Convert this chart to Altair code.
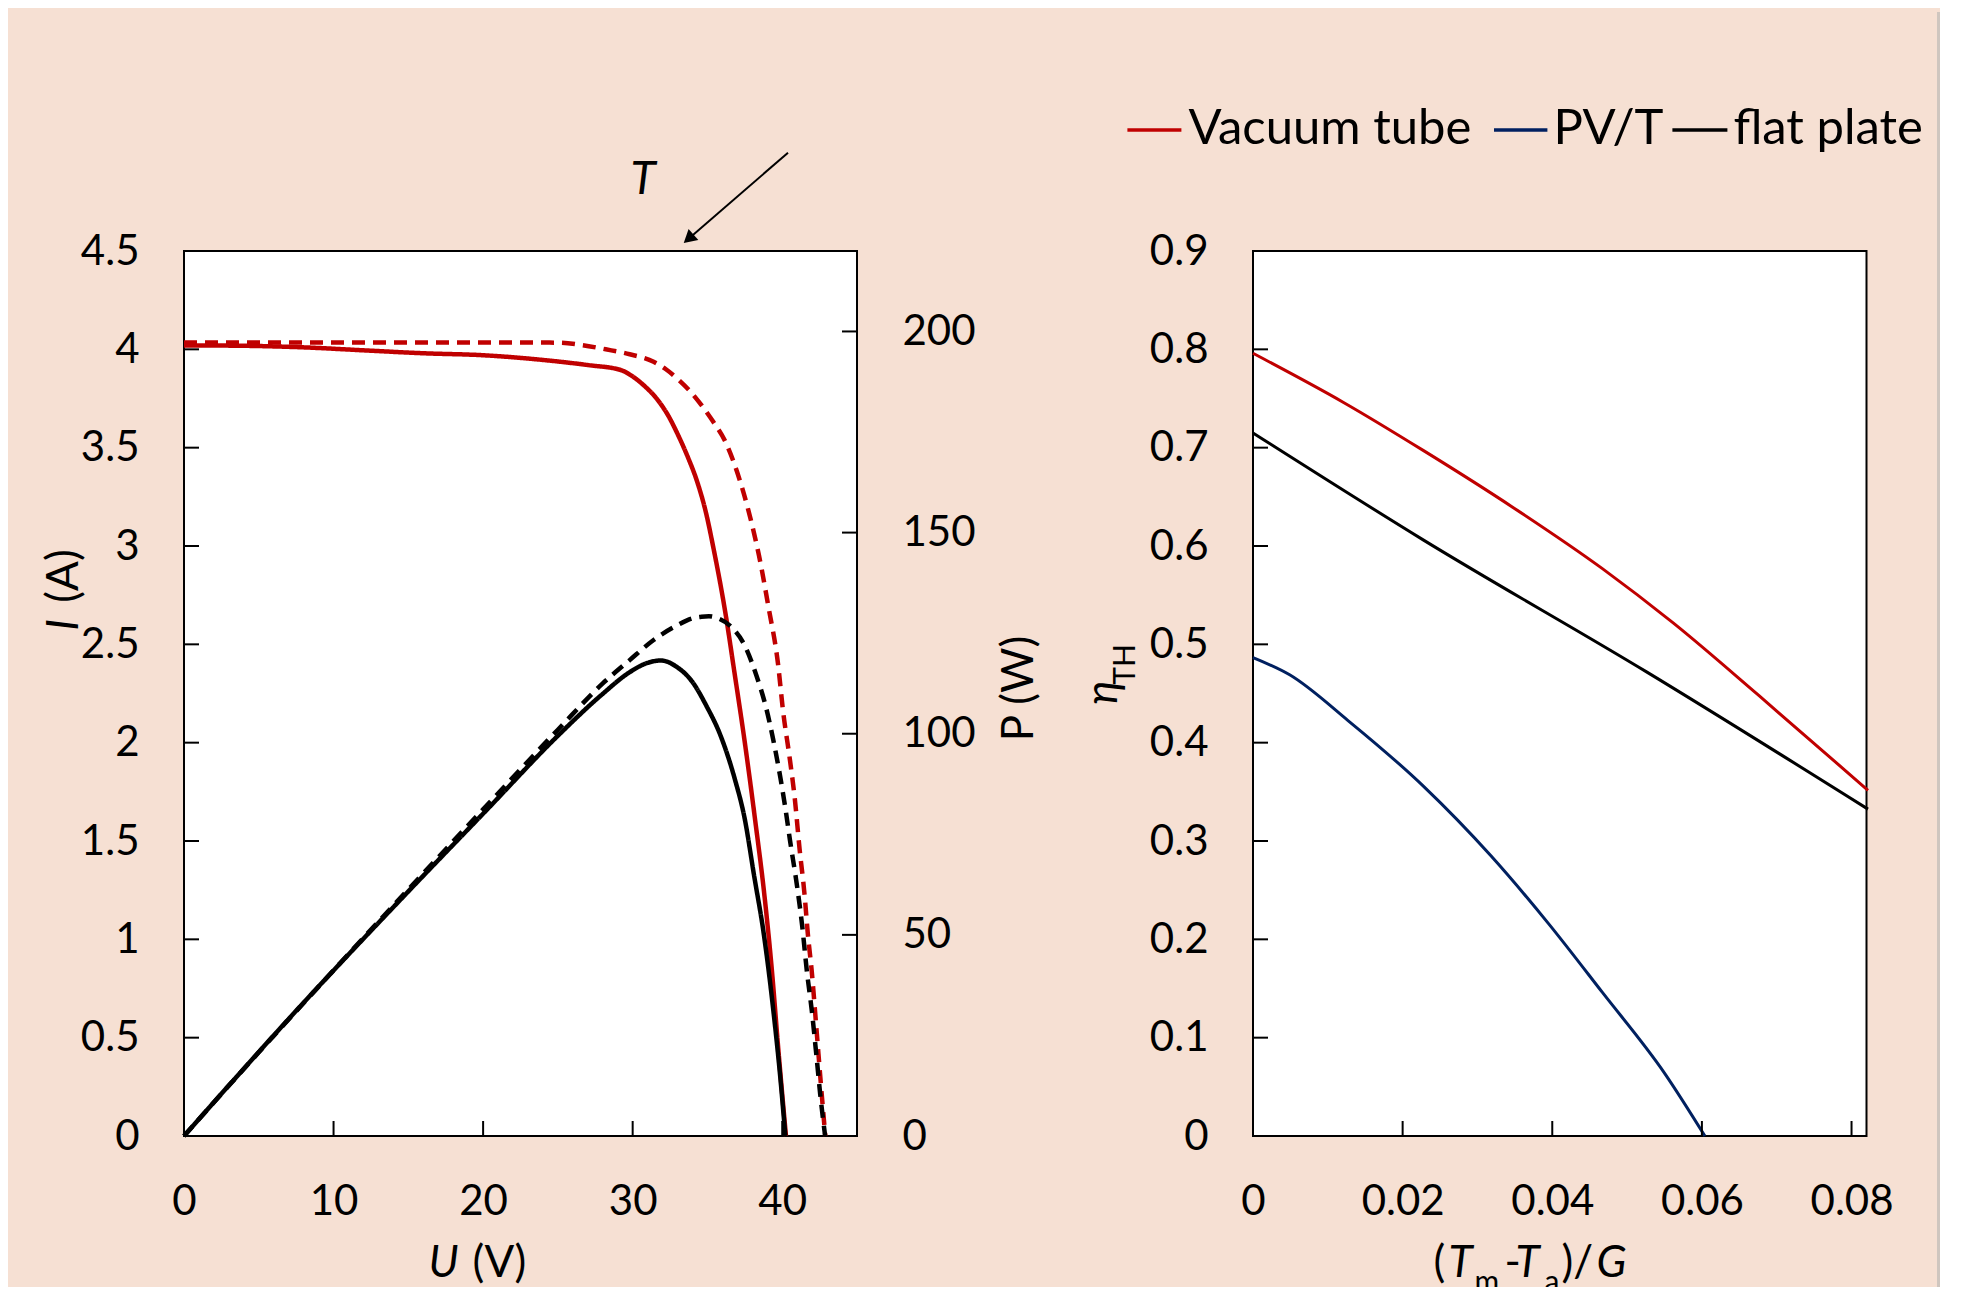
import altair as alt
import pandas as pd

# ---------------- data ----------------
# Left panel: I-U curves (red) and P-U curves (black); solid and dashed
U_I_solid = [0, 4, 8, 12, 16, 20, 24, 27, 29.2, 29.8, 30.7, 31.7, 32.4, 33.0, 33.7, 34.3,
             34.9, 35.4, 36.2, 36.8, 37.5, 38.2, 38.8, 39.3, 39.74, 40.25]
I_solid = [4.02, 4.018, 4.01, 3.995, 3.98, 3.97, 3.946, 3.92, 3.895, 3.872, 3.82, 3.74, 3.66,
           3.57, 3.45, 3.33, 3.17, 2.99, 2.66, 2.36, 2.0, 1.6, 1.23, 0.85, 0.44, 0.0]
U_I_dashed = [0, 5, 10, 15, 20, 25, 26.6, 28.2, 29.8, 31.4, 32.2, 33.0, 33.8, 34.6, 35.4, 36.2,
              37.2, 38.1, 38.45, 39.08, 39.72, 40.05, 40.52, 40.84, 41.16, 41.49, 41.71, 41.97,
              42.29, 42.6, 42.88]
I_dashed = [4.035, 4.035, 4.035, 4.035, 4.035, 4.034, 4.022, 4.0, 3.975, 3.937, 3.90, 3.85, 3.79,
            3.716, 3.63, 3.53, 3.325, 3.07, 2.95, 2.69, 2.40, 2.165, 1.91, 1.716, 1.46, 1.23, 1.03,
            0.84, 0.544, 0.25, 0.0]
U_P_solid = [0, 7.37, 15, 20.2, 25, 27.9, 29.8, 30.9, 31.9, 32.99, 33.97, 34.92, 35.88, 36.84,
             37.48, 38.12, 38.76, 39.40, 39.88, 40.21]
P_solid = [0, 30.6, 60.8, 80.9, 99.5, 109.6, 115.3, 117.5, 118.2, 116.5, 113.0, 107.0, 99.5,
           88.6, 79.1, 64.7, 50.4, 31.4, 14.2, 0]
U_P_dashed = [0, 5, 10, 15, 20, 25, 28, 29.8, 31.4, 33.0, 34.0, 34.6, 35.1, 35.7, 36.52, 37.48,
              38.28, 38.92, 39.40, 39.88, 40.21, 40.52, 41.0, 41.33, 41.65, 41.97, 42.29, 42.54,
              42.87]
P_dashed = [0, 20.8, 41.2, 61.3, 81.2, 101.0, 112.5, 118.3, 123.3, 127.0, 128.7, 129.1, 129.2,
            128.7, 126.8, 122.0, 114.4, 106.5, 98.5, 89.0, 81.5, 73.5, 61.9, 52.4, 40.9, 31.4,
            19.9, 10.4, 0]

U_ticks = [0, 10, 20, 30, 40]
I_ticks = [0, 0.5, 1, 1.5, 2, 2.5, 3, 3.5, 4, 4.5]
P_ticks = [0, 50, 100, 150, 200]

# Right panel: thermal efficiency vs (Tm-Ta)/G
collectors = ["Vacuum tube", "PV/T", "flat plate"]
X_vt = [0, 0.0121, 0.0228, 0.0348, 0.0467, 0.0562, 0.0676, 0.0822]
eta_vt = [0.796, 0.746, 0.697, 0.639, 0.577, 0.5215, 0.448, 0.3516]
X_pvt = [0, 0.0049, 0.0127, 0.0228, 0.0318, 0.0395, 0.0467, 0.055, 0.0604]
eta_pvt = [0.4865, 0.469, 0.4225, 0.3556, 0.285, 0.216, 0.146, 0.064, 0.0]
X_fp = [0, 0.0228, 0.0526, 0.0822]
eta_fp = [0.715, 0.606, 0.472, 0.3324]

X_ticks = [0, 0.02, 0.04, 0.06, 0.08]
eta_ticks = [0, 0.1, 0.2, 0.3, 0.4, 0.5, 0.6, 0.7, 0.8, 0.9]

# ---------------- styles ----------------
FONT = "Lato"
BG = "#F6E0D3"
RED = "#C00000"
BLUE = "#002060"
BLACK = "#000000"
LW, LH = 673, 885
RW, RH = 613.5, 885
TICK = 15
LBL = "'' + datum.value"

ONE = pd.DataFrame({"k": [0]})


def txt(s, x, y, size=44, italic=False, angle=0, align="left", baseline="alphabetic"):
    return alt.Chart(ONE).mark_text(
        text=s, font=FONT, fontSize=size, fontStyle="italic" if italic else "normal",
        angle=angle, align=align, baseline=baseline, color="black"
    ).encode(x=alt.value(x), y=alt.value(y))


def seg(x1, y1, x2, y2, color="black", w=2):
    return alt.Chart(ONE).mark_rule(color=color, strokeWidth=w).encode(
        x=alt.value(x1), y=alt.value(y1), x2=alt.value(x2), y2=alt.value(y2))


# ---------------- left panel ----------------
xs_left = alt.Scale(domain=[0, 45], nice=False, zero=False)
ys_I = alt.Scale(domain=[0, 4.5], nice=False)
ys_P = alt.Scale(domain=[0, 220], nice=False)
dash_scale = alt.Scale(domain=["solid", "dashed"], range=[[1, 0], [13, 8]])
ax_U = alt.Axis(values=U_ticks, labelExpr=LBL, title=None)
ax_I = alt.Axis(values=I_ticks, labelExpr=LBL, title=None)
ax_P = alt.Axis(orient="right", values=P_ticks, labelExpr=LBL, title=None)

iv = pd.DataFrame({
    "U": U_I_solid + U_I_dashed,
    "I": I_solid + I_dashed,
    "curve": ["solid"] * len(U_I_solid) + ["dashed"] * len(U_I_dashed),
})
pv = pd.DataFrame({
    "U": U_P_solid + U_P_dashed,
    "P": P_solid + P_dashed,
    "curve": ["solid"] * len(U_P_solid) + ["dashed"] * len(U_P_dashed),
})

i_lines = alt.Chart(iv).mark_line(color=RED, strokeWidth=4.5, interpolate="monotone").encode(
    x=alt.X("U:Q", scale=xs_left, axis=ax_U),
    y=alt.Y("I:Q", scale=ys_I, axis=ax_I),
    strokeDash=alt.StrokeDash("curve:N", scale=dash_scale, legend=None),
    detail="curve:N",
)
i_tick_marks = alt.Chart(pd.DataFrame({"I": I_ticks})).mark_rule(color="black", strokeWidth=2).encode(
    y=alt.Y("I:Q", scale=ys_I, axis=ax_I), x=alt.value(0), x2=alt.value(TICK))

p_lines = alt.Chart(pv).mark_line(color=BLACK, strokeWidth=4.5, interpolate="monotone").encode(
    x=alt.X("U:Q", scale=xs_left, axis=ax_U),
    y=alt.Y("P:Q", scale=ys_P, axis=ax_P),
    strokeDash=alt.StrokeDash("curve:N", scale=dash_scale, legend=None),
    detail="curve:N",
)
p_tick_marks = alt.Chart(pd.DataFrame({"P": P_ticks})).mark_rule(color="black", strokeWidth=2).encode(
    y=alt.Y("P:Q", scale=ys_P, axis=ax_P), x=alt.value(LW - TICK), x2=alt.value(LW))

u_tick_marks = alt.Chart(pd.DataFrame({"U": U_ticks})).mark_rule(color="black", strokeWidth=2).encode(
    x=alt.X("U:Q", scale=xs_left, axis=ax_U), y=alt.value(LH - TICK), y2=alt.value(LH))

left_deco = [
    # axis titles
    txt("I", -106.5, 374, italic=True, angle=270, align="center"),
    txt("(A)", -106.5, 325, angle=270, align="center"),
    txt("P (W)", 848.5, 437.5, angle=270, align="center"),
    txt("U", 244.5, 1026, italic=True),
    txt("(V)", 288.5, 1026),
    # T annotation with arrow
    txt("T", 459, -57, size=46, italic=True, align="center"),
    seg(604, -98.3, 504.6, -12.3, w=2),
    alt.Chart(ONE).mark_point(shape="triangle-up", filled=True, size=220, angle=229,
                              color="black", opacity=1).encode(
        x=alt.value(504.6), y=alt.value(-12.3)),
    # extent marker (top-left corner of the canvas)
    seg(-174.5, -241, -174.5, -241, color=BG, w=1),
]

left = alt.layer(
    alt.layer(i_lines, i_tick_marks),
    alt.layer(p_lines, p_tick_marks),
    u_tick_marks,
    *left_deco,
).resolve_scale(y="independent").properties(width=LW, height=LH)

# ---------------- right panel ----------------
xs_right = alt.Scale(domain=[0, 0.082], nice=False, zero=False)
ys_eta = alt.Scale(domain=[0, 0.9], nice=False)
ax_X = alt.Axis(values=X_ticks, labelExpr=LBL, title=None)
ax_eta = alt.Axis(values=eta_ticks, labelExpr=LBL, title=None)
colors = [RED, BLUE, BLACK]

th = pd.DataFrame({
    "x": X_vt + X_pvt + X_fp,
    "eta": eta_vt + eta_pvt + eta_fp,
    "collector": [collectors[0]] * len(X_vt) + [collectors[1]] * len(X_pvt)
                 + [collectors[2]] * len(X_fp),
})

r_lines = alt.Chart(th).mark_line(strokeWidth=3, interpolate="monotone").encode(
    x=alt.X("x:Q", scale=xs_right, axis=ax_X),
    y=alt.Y("eta:Q", scale=ys_eta, axis=ax_eta),
    color=alt.Color("collector:N", scale=alt.Scale(domain=collectors, range=colors), legend=None),
)
eta_tick_marks = alt.Chart(pd.DataFrame({"eta": eta_ticks[1:-1]})).mark_rule(
    color="black", strokeWidth=2).encode(
    y=alt.Y("eta:Q", scale=ys_eta, axis=ax_eta), x=alt.value(0), x2=alt.value(TICK))
x_tick_marks = alt.Chart(pd.DataFrame({"x": X_ticks[1:]})).mark_rule(
    color="black", strokeWidth=2).encode(
    x=alt.X("x:Q", scale=xs_right, axis=ax_X), y=alt.value(RH - TICK), y2=alt.value(RH))

# legend (line sample + label), positions are styling only
leg_line_x = [(-125.6, -71.6), (241, 294.4), (419.4, 474.4)]
leg_text_x = [-64.6, 300.4, 480.4]
legend_parts = []
for name, col, (a, b), tx in zip(collectors, colors, leg_line_x, leg_text_x):
    legend_parts.append(seg(a, -121, b, -121, color=col, w=3.5))
    legend_parts.append(txt(name, tx, -107, size=49))

right_deco = [
    txt("\u03b7", -135.6, 441.7, italic=True, angle=270, align="center"),
    txt("TH", -117.6, 413.4, size=30, angle=270, align="center"),
    txt("(", 180.4, 1026),
    txt("T", 195.4, 1026, italic=True),
    txt("m", 221.4, 1041, size=30),
    txt("-", 251.4, 1026),
    txt("T", 262.4, 1026, italic=True),
    txt("a", 291.4, 1041, size=30),
    txt(")/", 308.4, 1026),
    txt("G", 343.4, 1026, italic=True),
    # page border on the right (also the right/bottom extent marker)
    seg(685.5, -239, 685.5, 1057, color="#CFC6BF", w=3),
]

right = alt.layer(
    r_lines, eta_tick_marks, x_tick_marks, *legend_parts, *right_deco
).properties(width=RW, height=RH)

chart = alt.hconcat(left, right, spacing=396, bounds="flush").properties(
    background=BG,
    padding={"left": 0, "top": 0, "right": -1, "bottom": -24},
).configure_view(
    stroke="black", strokeWidth=2, fill="white"
).configure_axis(
    labelFont=FONT, labelFontSize=42, labelColor="black", labelPadding=45,
    ticks=False, domain=False, grid=False, labelFlush=False, labelOverlap=False,
)

chart.save("out.html", embed_options={"renderer": "svg", "actions": False})
